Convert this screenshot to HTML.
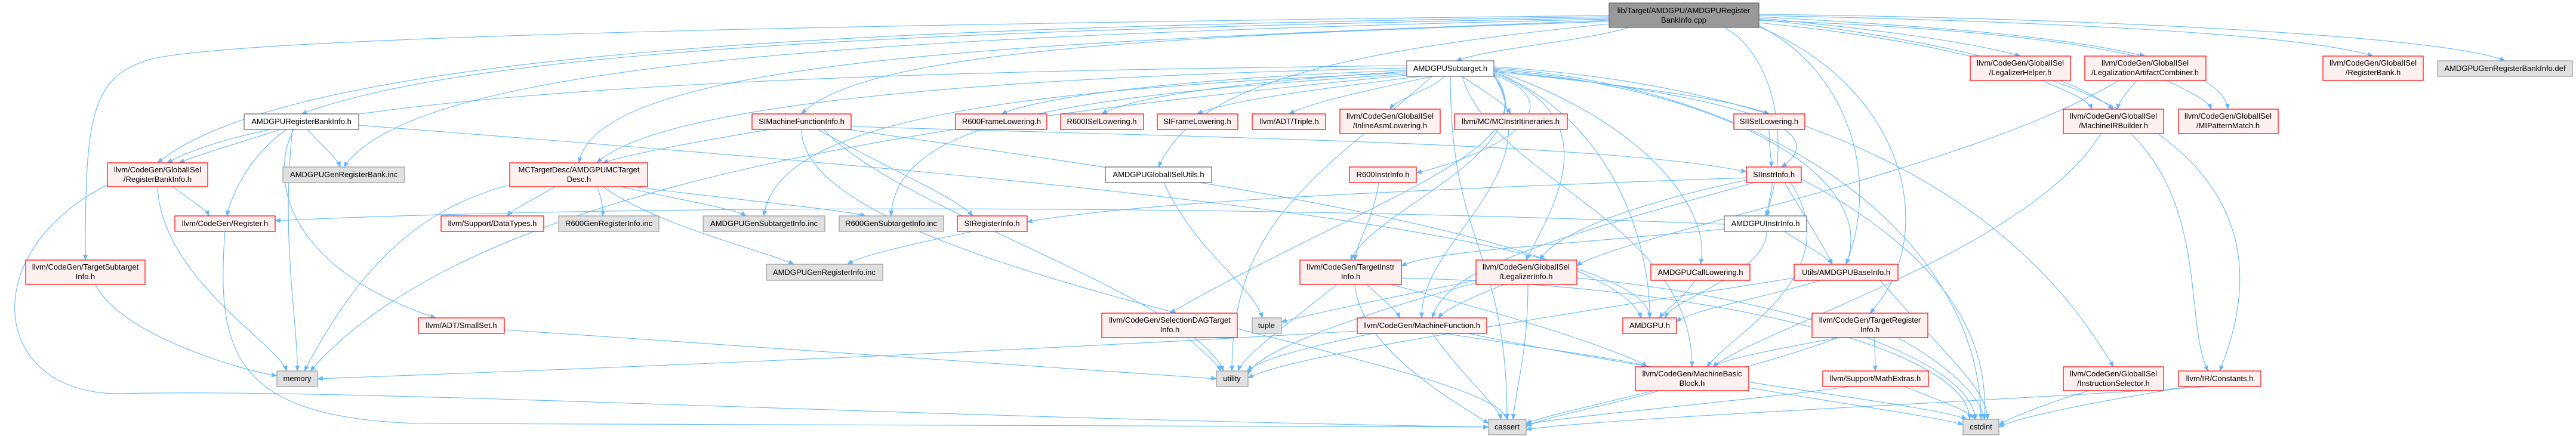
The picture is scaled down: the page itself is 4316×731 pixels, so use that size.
<!DOCTYPE html>
<html><head><meta charset="utf-8"><style>
html,body{margin:0;padding:0;background:#fff;}
svg{display:block;}
text{font-family:"Liberation Sans",sans-serif;font-size:13px;fill:#000;text-anchor:middle;}
.e{fill:none;stroke:#63b8ff;stroke-width:1.1;marker-end:url(#a);}
.r{fill:#fff0f0;stroke:#ff0000;stroke-width:1.2;}
.g{fill:#e0e0e0;stroke:#999;stroke-width:1.2;}
.w{fill:#fff;stroke:#666;stroke-width:1.2;}
.m{fill:#999;stroke:#666;stroke-width:1.2;}
</style></head><body>
<svg width="4316" height="731" viewBox="0 0 4316 731" xmlns="http://www.w3.org/2000/svg">
<defs><marker id="a" markerWidth="10" markerHeight="8" refX="9" refY="4" orient="auto" markerUnits="userSpaceOnUse"><path d="M0,0 L10,4 L0,8 z" fill="#63b8ff"/></marker></defs>
<g>
<!-- main -->
<path class="e" d="M2730,46 C2650,70 2500,80 2440,102"/>
<path class="e" d="M2696,30 C1600,50 800,80 505,191"/>
<path class="e" d="M2696,28 C1500,45 500,80 264,273"/>
<path class="e" d="M2696,26 C1500,40 400,60 250,100 C150,130 143,200 143,436"/>
<path class="e" d="M2696,32 C1500,60 700,100 576,280"/>
<path class="e" d="M2696,34 C1800,70 1000,90 970,273"/>
<path class="e" d="M2696,36 C2000,60 1450,80 1343,191"/>
<path class="e" d="M2696,40 C2200,90 2000,150 1941,280"/>
<path class="e" d="M2890,46 C2980,100 3000,250 2958,362"/>
<path class="e" d="M2945,30 C3150,50 3300,70 3385,94"/>
<path class="e" d="M2945,28 C3250,45 3450,60 3594,94"/>
<path class="e" d="M2945,26 C3400,35 3850,55 3976,94"/>
<path class="e" d="M2945,24 C3500,30 4100,60 4197,102"/>
<path class="e" d="M2945,32 C3200,60 3450,110 3541,183"/>
<path class="e" d="M2945,34 C3400,50 3720,90 3733,183"/>
<path class="e" d="M2945,38 C3600,100 3850,300 3719,622"/>
<path class="e" d="M2945,42 C3100,120 3150,300 3093,443"/>
<path class="e" d="M2945,44 C3200,150 3250,400 3133,525"/>
<!-- subtarget -->
<path class="e" d="M2357,118 C2000,130 1750,160 1678,191"/>
<path class="e" d="M2357,120 C2100,135 1900,160 1846,191"/>
<path class="e" d="M2380,128 C2200,150 2050,170 2006,191"/>
<path class="e" d="M2400,128 C2300,150 2200,170 2160,191"/>
<path class="e" d="M2420,128 C2400,150 2340,165 2329,183"/>
<path class="e" d="M2450,128 C2480,150 2520,170 2531,191"/>
<path class="e" d="M2503,120 C2700,140 2900,165 2964,191"/>
<path class="e" d="M2503,125 C2650,180 2500,260 2373,290"/>
<path class="e" d="M2503,118 C2800,150 3100,200 2985,280"/>
<path class="e" d="M2503,122 C2700,200 2600,350 2557,436"/>
<path class="e" d="M2503,124 C2600,250 2300,350 2263,436"/>
<path class="e" d="M2503,126 C2600,300 2380,400 2382,533"/>
<path class="e" d="M2503,120 C2700,200 2764,400 2764,533"/>
<path class="e" d="M2503,118 C2750,200 2870,350 2849,443"/>
<path class="e" d="M2503,116 C2900,150 3150,300 3093,443"/>
<path class="e" d="M2503,128 C2600,250 2300,330 1960,525"/>
<path class="e" d="M2357,122 C1700,150 1300,200 1280,362"/>
<path class="e" d="M2357,124 C1800,160 1500,200 1493,362"/>
<path class="e" d="M2357,114 C1600,130 1100,180 1000,273"/>
<path class="e" d="M2357,110 C1400,120 500,150 280,273"/>
<path class="e" d="M2357,126 C1600,200 800,300 520,622"/>
<path class="e" d="M2430,128 C2430,415 2525,415 2525,703"/>
<path class="e" d="M2503,114 C3000,150 3319,415 3319,703"/>
<path class="e" d="M2503,112 C3100,150 3400,371 3541,615"/>
<path class="e" d="M2400,128 C2200,300 2064,375 2064,622"/>
<path class="e" d="M2450,128 C2500,300 2835,371 2835,615"/>
<!-- RBI_h -->
<path class="e" d="M470,217 C400,240 330,260 300,273"/>
<path class="e" d="M515,217 C540,245 565,265 570,280"/>
<path class="e" d="M480,217 C420,260 390,320 380,362"/>
<path class="e" d="M492,217 C450,300 480,450 730,533"/>
<path class="e" d="M490,217 C470,400 500,550 498,622"/>
<path class="e" d="M601,210 C1500,280 2764,375 2764,533"/>
<!-- GRBI -->
<path class="e" d="M290,313 C320,337 345,350 350,362"/>
<path class="e" d="M264,313 C270,467 470,580 480,622"/>
<path class="e" d="M180,310 C-40,420 -20,660 200,660 C600,650 1500,700 2494,716"/>
<path class="e" d="M160,477 C200,560 400,620 464,630"/>
<!-- MCTD -->
<path class="e" d="M930,313 C890,337 860,350 850,362"/>
<path class="e" d="M1000,313 C1010,337 1010,350 1010,362"/>
<path class="e" d="M1040,313 C1150,337 1230,350 1250,362"/>
<path class="e" d="M1060,313 C1250,337 1400,350 1450,362"/>
<path class="e" d="M1010,313 C1100,378 1280,420 1330,443"/>
<path class="e" d="M854,310 C700,350 600,450 510,622"/>
<path class="e" d="M377,388 C360,600 400,700 700,710 C1500,715 2200,716 2494,716"/>
<path class="e" d="M845,553 C1400,590 2000,630 2038,635"/>
<!-- SIMFI -->
<path class="e" d="M1290,217 C1150,240 1050,260 1010,273"/>
<path class="e" d="M1370,217 C1500,289 1600,330 1630,362"/>
<path class="e" d="M1426,212 C2000,230 2700,240 2926,288"/>
<path class="e" d="M1420,217 C2000,300 2700,400 2750,533"/>
<path class="e" d="M1343,217 C1343,460 2500,600 2525,703"/>
<path class="e" d="M1380,217 C1500,350 2000,500 2050,622"/>
<path class="e" d="M2964,217 C2964,248 2968,265 2968,280"/>
<path class="e" d="M2310,306 C2300,371 2275,400 2270,436"/>
<!-- SIII -->
<path class="e" d="M2926,298 C2300,320 1900,340 1721,372"/>
<path class="e" d="M2970,306 C2965,334 2962,345 2962,362"/>
<path class="e" d="M2990,306 C3030,374 3060,420 3070,443"/>
<path class="e" d="M2940,306 C2600,400 2420,450 2400,533"/>
<path class="e" d="M3000,306 C3100,460 2900,560 2860,615"/>
<path class="e" d="M3018,300 C3300,450 3330,600 3325,703"/>
<path class="e" d="M2926,302 C2700,350 2600,400 2580,436"/>
<!-- AII -->
<path class="e" d="M2889,384 C2600,412 2400,420 2348,446"/>
<path class="e" d="M2990,388 C3030,415 3060,430 3070,443"/>
<path class="e" d="M2960,388 C2960,460 2800,500 2790,533"/>
<path class="e" d="M2889,376 C2000,340 1000,345 461,370"/>
<path class="e" d="M1950,306 C2000,419 2100,480 2115,533"/>
<!-- TII -->
<path class="e" d="M2290,477 C2320,505 2340,520 2345,533"/>
<path class="e" d="M2330,477 C2600,546 2740,600 2760,615"/>
<path class="e" d="M2270,477 C2280,590 2450,680 2494,710"/>
<path class="e" d="M2240,477 C2150,549 2080,600 2075,622"/>
<path class="e" d="M2348,466 C2900,480 3300,590 3300,703"/>
<!-- LI -->
<path class="e" d="M2520,477 C2450,505 2420,520 2410,533"/>
<path class="e" d="M2473,470 C2300,505 2180,530 2147,540"/>
<path class="e" d="M2560,477 C2560,590 2540,650 2535,703"/>
<path class="e" d="M2642,466 C3000,500 3300,600 3310,703"/>
<path class="e" d="M2473,474 C2200,549 2100,600 2091,628"/>
<path class="e" d="M2840,470 C2820,501 2790,520 2780,533"/>
<path class="e" d="M3050,470 C2950,501 2830,520 2809,540"/>
<path class="e" d="M3150,470 C3250,586 3330,650 3330,703"/>
<path class="e" d="M3006,466 C2500,546 2150,600 2091,634"/>
<!-- MF -->
<path class="e" d="M2420,559 C2600,587 2740,605 2760,615"/>
<path class="e" d="M2400,559 C2450,631 2510,680 2515,703"/>
<path class="e" d="M2300,559 C2150,590 2100,610 2091,622"/>
<path class="e" d="M2274,555 C1500,600 800,625 532,635"/>
<path class="e" d="M2460,559 C2800,631 3250,680 3295,703"/>
<!-- TRI -->
<path class="e" d="M3080,566 C2950,590 2880,605 2870,615"/>
<path class="e" d="M3140,566 C3142,594 3142,610 3142,622"/>
<path class="e" d="M3080,566 C2900,634 2600,690 2557,710"/>
<path class="e" d="M3180,566 C3300,634 3320,680 3325,703"/>
<path class="e" d="M3100,648 C2900,675 2600,700 2557,712"/>
<path class="e" d="M3190,648 C3260,675 3300,690 3310,703"/>
<path class="e" d="M2780,655 C2700,679 2580,700 2557,716"/>
<path class="e" d="M2930,650 C3100,679 3250,700 3289,712"/>
<path class="e" d="M1990,566 C2020,594 2040,610 2045,622"/>
<path class="e" d="M1630,388 C1500,415 1440,430 1420,443"/>
<!-- GlobalISel right -->
<path class="e" d="M3580,135 C3560,159 3550,170 3548,183"/>
<path class="e" d="M3630,135 C3680,159 3700,170 3705,183"/>
<path class="e" d="M3550,135 C3300,285 2700,400 2642,446"/>
<path class="e" d="M3420,135 C3480,159 3500,170 3505,183"/>
<path class="e" d="M3520,224 C3400,419 2950,550 2870,615"/>
<path class="e" d="M3570,224 C3700,350 3660,550 3700,622"/>
<path class="e" d="M3500,655 C3420,679 3370,700 3349,712"/>
<path class="e" d="M3670,648 C3500,675 3380,700 3349,716"/>
<path class="e" d="M3700,648 C3300,675 2700,700 2557,720"/>
</g>
<g>
<rect class="m" x="2696" y="5" width="251" height="41"/><text x="2821" y="22">lib/Target/AMDGPU/AMDGPURegister</text><text x="2821" y="38">BankInfo.cpp</text>
<rect class="w" x="2357" y="102" width="146" height="26"/><text x="2430" y="119">AMDGPUSubtarget.h</text>
<rect class="w" x="409" y="191" width="192" height="26"/><text x="505" y="208">AMDGPURegisterBankInfo.h</text>
<rect class="r" x="180" y="273" width="168" height="40"/><text x="264" y="289">llvm/CodeGen/GlobalISel</text><text x="264" y="305">/RegisterBankInfo.h</text>
<rect class="g" x="474" y="280" width="204" height="26"/><text x="576" y="297">AMDGPUGenRegisterBank.inc</text>
<rect class="r" x="854" y="273" width="231" height="40"/><text x="970" y="289">MCTargetDesc/AMDGPUMCTarget</text><text x="970" y="305">Desc.h</text>
<rect class="r" x="293" y="362" width="168" height="26"/><text x="377" y="379">llvm/CodeGen/Register.h</text>
<rect class="r" x="739" y="362" width="172" height="26"/><text x="825" y="379">llvm/Support/DataTypes.h</text>
<rect class="g" x="936" y="362" width="168" height="26"/><text x="1020" y="379">R600GenRegisterInfo.inc</text>
<rect class="r" x="43" y="436" width="200" height="41"/><text x="143" y="452">llvm/CodeGen/TargetSubtarget</text><text x="143" y="468">Info.h</text>
<rect class="r" x="701" y="533" width="144" height="26"/><text x="773" y="550">llvm/ADT/SmallSet.h</text>
<rect class="g" x="464" y="622" width="68" height="26"/><text x="498" y="639">memory</text>
<rect class="r" x="1260" y="191" width="166" height="26"/><text x="1343" y="208">SIMachineFunctionInfo.h</text>
<rect class="r" x="1601" y="191" width="153" height="26"/><text x="1678" y="208">R600FrameLowering.h</text>
<rect class="r" x="1777" y="191" width="139" height="26"/><text x="1846" y="208">R600ISelLowering.h</text>
<rect class="r" x="1939" y="191" width="135" height="26"/><text x="2006" y="208">SIFrameLowering.h</text>
<rect class="r" x="2098" y="191" width="123" height="26"/><text x="2160" y="208">llvm/ADT/Triple.h</text>
<rect class="w" x="1852" y="280" width="178" height="26"/><text x="1941" y="297">AMDGPUGlobalISelUtils.h</text>
<rect class="g" x="1178" y="362" width="204" height="26"/><text x="1280" y="379">AMDGPUGenSubtargetInfo.inc</text>
<rect class="g" x="1406" y="362" width="175" height="26"/><text x="1493" y="379">R600GenSubtargetInfo.inc</text>
<rect class="r" x="1604" y="362" width="117" height="26"/><text x="1662" y="379">SIRegisterInfo.h</text>
<rect class="g" x="1284" y="443" width="195" height="27"/><text x="1381" y="461">AMDGPUGenRegisterInfo.inc</text>
<rect class="r" x="1846" y="525" width="227" height="41"/><text x="1960" y="541">llvm/CodeGen/SelectionDAGTarget</text><text x="1960" y="557">Info.h</text>
<rect class="g" x="2098" y="533" width="49" height="26"/><text x="2122" y="550">tuple</text>
<rect class="g" x="2038" y="622" width="53" height="26"/><text x="2064" y="639">utility</text>
<rect class="r" x="2245" y="183" width="168" height="41"/><text x="2329" y="199">llvm/CodeGen/GlobalISel</text><text x="2329" y="215">/InlineAsmLowering.h</text>
<rect class="r" x="2437" y="191" width="189" height="26"/><text x="2531" y="208">llvm/MC/MCInstrItineraries.h</text>
<rect class="r" x="2905" y="191" width="119" height="26"/><text x="2964" y="208">SIISelLowering.h</text>
<rect class="r" x="2261" y="280" width="112" height="26"/><text x="2317" y="297">R600InstrInfo.h</text>
<rect class="r" x="2926" y="280" width="92" height="26"/><text x="2972" y="297">SIInstrInfo.h</text>
<rect class="w" x="2889" y="362" width="138" height="26"/><text x="2958" y="379">AMDGPUInstrInfo.h</text>
<rect class="r" x="2178" y="436" width="170" height="41"/><text x="2263" y="452">llvm/CodeGen/TargetInstr</text><text x="2263" y="468">Info.h</text>
<rect class="r" x="2473" y="436" width="169" height="41"/><text x="2557" y="452">llvm/CodeGen/GlobalISel</text><text x="2557" y="468">/LegalizerInfo.h</text>
<rect class="r" x="2766" y="443" width="166" height="27"/><text x="2849" y="461">AMDGPUCallLowering.h</text>
<rect class="r" x="3006" y="443" width="174" height="27"/><text x="3093" y="461">Utils/AMDGPUBaseInfo.h</text>
<rect class="r" x="2274" y="533" width="217" height="26"/><text x="2382" y="550">llvm/CodeGen/MachineFunction.h</text>
<rect class="r" x="2719" y="533" width="90" height="26"/><text x="2764" y="550">AMDGPU.h</text>
<rect class="r" x="3036" y="525" width="194" height="41"/><text x="3133" y="541">llvm/CodeGen/TargetRegister</text><text x="3133" y="557">Info.h</text>
<rect class="r" x="2740" y="615" width="190" height="40"/><text x="2835" y="631">llvm/CodeGen/MachineBasic</text><text x="2835" y="647">Block.h</text>
<rect class="r" x="3054" y="622" width="177" height="26"/><text x="3142" y="639">llvm/Support/MathExtras.h</text>
<rect class="g" x="2494" y="703" width="63" height="26"/><text x="2525" y="720">cassert</text>
<rect class="r" x="3301" y="94" width="168" height="41"/><text x="3385" y="110">llvm/CodeGen/GlobalISel</text><text x="3385" y="126">/LegalizerHelper.h</text>
<rect class="r" x="3493" y="94" width="203" height="41"/><text x="3594" y="110">llvm/CodeGen/GlobalISel</text><text x="3594" y="126">/LegalizationArtifactCombiner.h</text>
<rect class="r" x="3892" y="94" width="168" height="41"/><text x="3976" y="110">llvm/CodeGen/GlobalISel</text><text x="3976" y="126">/RegisterBank.h</text>
<rect class="g" x="4084" y="102" width="226" height="26"/><text x="4197" y="119">AMDGPUGenRegisterBankInfo.def</text>
<rect class="r" x="3457" y="183" width="168" height="41"/><text x="3541" y="199">llvm/CodeGen/GlobalISel</text><text x="3541" y="215">/MachineIRBuilder.h</text>
<rect class="r" x="3650" y="183" width="167" height="41"/><text x="3733" y="199">llvm/CodeGen/GlobalISel</text><text x="3733" y="215">/MIPatternMatch.h</text>
<rect class="r" x="3457" y="615" width="168" height="40"/><text x="3541" y="631">llvm/CodeGen/GlobalISel</text><text x="3541" y="647">/InstructionSelector.h</text>
<rect class="r" x="3650" y="622" width="138" height="26"/><text x="3719" y="639">llvm/IR/Constants.h</text>
<rect class="g" x="3289" y="703" width="60" height="26"/><text x="3319" y="720">cstdint</text>
</g>
</svg>
</body></html>
